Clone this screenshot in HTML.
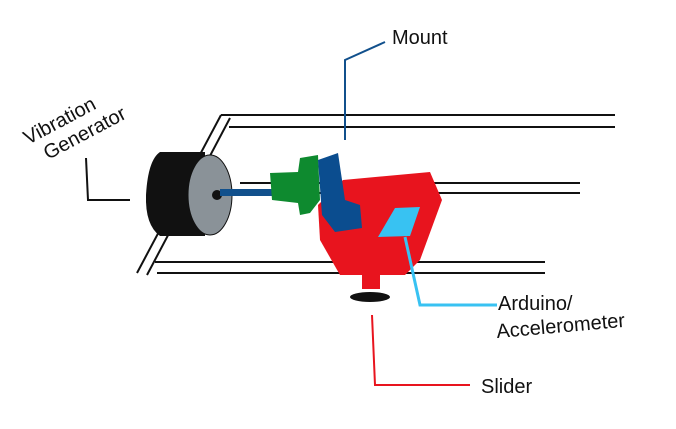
<!DOCTYPE html>
<html><head><style>body{margin:0;background:#fff}svg{display:block}</style></head><body>
<svg width="676" height="429" viewBox="0 0 676 429" xmlns="http://www.w3.org/2000/svg" font-family="Liberation Sans, sans-serif">
<g stroke="#111" stroke-width="2" fill="none">
<line x1="221" y1="115" x2="615" y2="115"/>
<line x1="229" y1="127" x2="615" y2="127"/>
<line x1="221" y1="115" x2="137" y2="273"/>
<line x1="230" y1="118" x2="147" y2="275"/>
<line x1="240" y1="183" x2="580" y2="183"/>
<line x1="240" y1="193" x2="580" y2="193"/>
<line x1="155" y1="262" x2="545" y2="262"/>
<line x1="157" y1="273" x2="545" y2="273"/>
</g>
<path d="M160 152 L205 152 L205 236 L160 236 Q145 225 146 195 Q148 160 160 152Z" fill="#111"/>
<ellipse cx="210" cy="195" rx="22" ry="40" fill="#8a9298" stroke="#111" stroke-width="1"/>
<circle cx="217" cy="195" r="5" fill="#111"/>
<rect x="220" y="189" width="52" height="7" fill="#11508c"/>
<polygon points="270,173 298,172 300,158 318,155 320,200 310,213 300,215 298,203 272,200" fill="#0e8a2f"/>
<polygon points="343,180 430,172 442,200 420,260 405,275 340,275 320,240 318,205" fill="#e8141e"/>
<polygon points="318,160 338,153 345,200 360,205 362,228 335,232 322,215" fill="#0b4d8f"/>
<rect x="362" y="275" width="18" height="14" fill="#e8141e"/>
<ellipse cx="370" cy="297" rx="20" ry="5" fill="#111"/>
<polygon points="395,208 420,207 410,236 378,237" fill="#38c2f2"/>
<polyline points="405,237 420,305 497,305" stroke="#38c2f2" stroke-width="3" fill="none"/>
<polyline points="372,315 375,385 470,385" stroke="#e8141e" stroke-width="2" fill="none"/>
<polyline points="345,140 345,60 385,42" stroke="#11508c" stroke-width="2" fill="none"/>
<polyline points="86,158 88,200 130,200" stroke="#111" stroke-width="2" fill="none"/>
<g fill="#111" font-size="20">
<text x="392" y="44">Mount</text>
<text transform="translate(28,145) rotate(-28)">Vibration</text>
<text transform="translate(48,160) rotate(-28)">Generator</text>
<text x="498" y="310">Arduino/</text>
<text transform="translate(497,338) rotate(-5)">Accelerometer</text>
<text x="481" y="393">Slider</text>
</g>
</svg>
</body></html>
